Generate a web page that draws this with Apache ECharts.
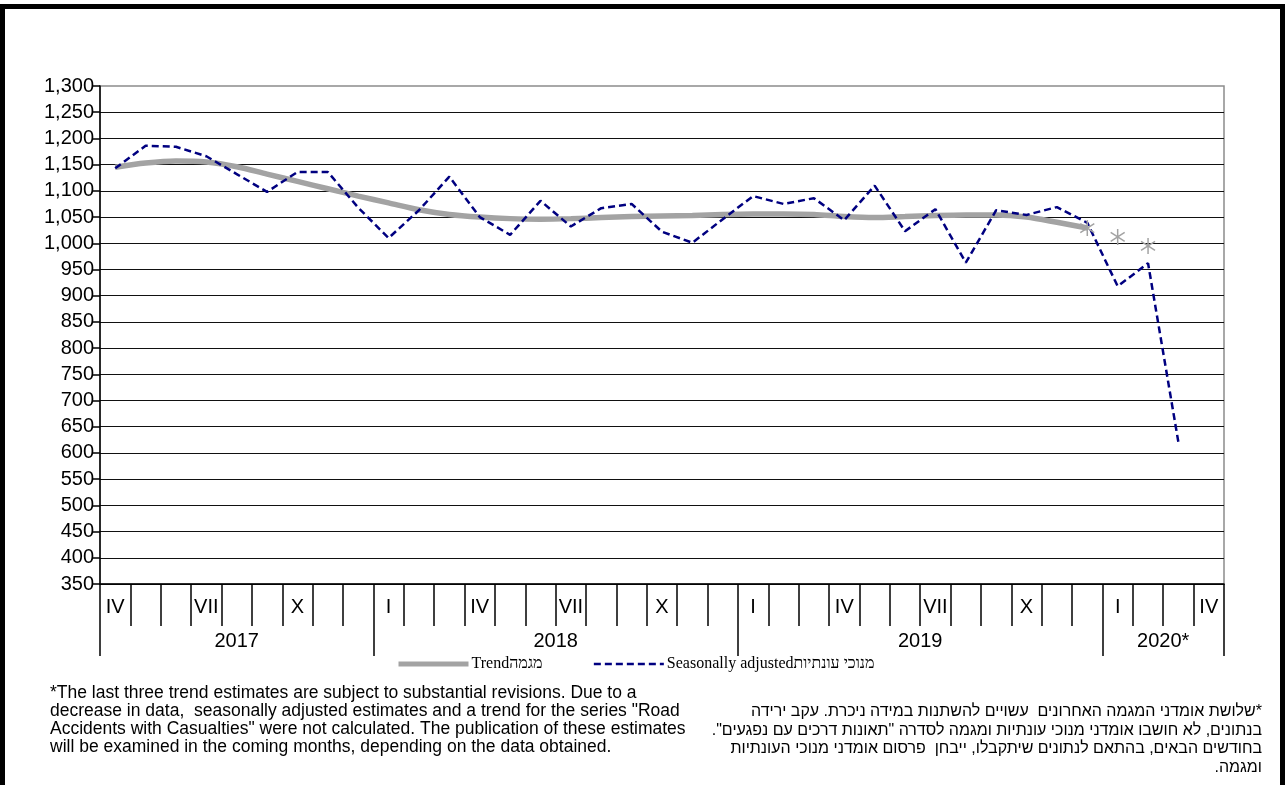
<!DOCTYPE html>
<html>
<head>
<meta charset="utf-8">
<script src="https://cdn.jsdelivr.net/npm/echarts@6/dist/echarts.min.js"></script>
<style>
html, body { margin: 0; padding: 0; background: #fff; }
#main { width: 1287px; height: 785px; }
</style>
</head>
<body>
<div id="main"></div>
<script>
// months shown on the axis, Apr 2017 .. Apr 2020
var months = [
  '2017-04', '2017-05', '2017-06', '2017-07', '2017-08', '2017-09', '2017-10', '2017-11', '2017-12',
  '2018-01', '2018-02', '2018-03', '2018-04', '2018-05', '2018-06', '2018-07', '2018-08', '2018-09',
  '2018-10', '2018-11', '2018-12',
  '2019-01', '2019-02', '2019-03', '2019-04', '2019-05', '2019-06', '2019-07', '2019-08', '2019-09',
  '2019-10', '2019-11', '2019-12',
  '2020-01', '2020-02', '2020-03', '2020-04'
]
var quarterLabels = ['I', '', '', 'IV', '', '', 'VII', '', '', 'X', '', '']
var yearLabels = ['2017', '2018', '2019', '2020*']

// seasonally adjusted, Apr 2017 .. Mar 2020
var seasonal = [
  1143, 1186, 1184, 1166, 1132, 1098, 1136, 1136, 1068,
  1010, 1063, 1127, 1050, 1016, 1081, 1032, 1067, 1075, 1022, 1001, 1046,
  1090, 1075, 1086, 1044, 1110, 1023, 1065, 963, 1063, 1054, 1069, 1039,
  918, 962, 620
]
// trend, Apr 2017 .. Dec 2019
var trend = [
  1145, 1153, 1157, 1155, 1146, 1132, 1118, 1104, 1090,
  1077, 1064, 1055, 1050, 1047, 1046, 1047, 1049, 1051, 1052, 1053, 1055,
  1056, 1056, 1055, 1051, 1049, 1051, 1053, 1054, 1054, 1050, 1040, 1029
]
// last three trend estimates (Dec 2019, Jan 2020, Feb 2020)
var trendRevised = [1029, 1012, 995]

var notesEn = [
  '*The last three trend estimates are subject to substantial revisions. Due to a',
  'decrease in data,  seasonally adjusted estimates and a trend for the series "Road',
  'Accidents with Casualties" were not calculated. The publication of these estimates',
  'will be examined in the coming months, depending on the data obtained.'
]
var notesHe = [
  '*שלושת אומדני המגמה האחרונים  עשויים להשתנות במידה ניכרת. עקב ירידה',
  'בנתונים, לא חושבו אומדני מנוכי עונתיות ומגמה לסדרה "תאונות דרכים עם נפגעים".',
  'בחודשים הבאים, בהתאם לנתונים שיתקבלו, ייבחן  פרסום אומדני מנוכי העונתיות',
  'ומגמה.'
]

var yearStarts = [0]
months.forEach(function (m, i) {
  if (i > 0 && m.slice(0, 4) !== months[i - 1].slice(0, 4)) yearStarts.push(i)
})
var yearBounds = yearStarts.concat([months.length])
var yearCenters = yearStarts.map(function (s, i) { return (s + yearBounds[i + 1]) / 2 })

var first = trend.length - 1
var revisedData = months.map(function (m, i) {
  var k = i - first
  return k >= 0 && k < trendRevised.length ? trendRevised[k] : '-'
})

var font = '"Liberation Sans", Arial, sans-serif'
var star = 'path://M0,-8L0,8M-7,-4.5L7,4.5M-7,4.5L7,-4.5'

var graphics = [{
  type: 'rect',
  shape: { x: 2.5, y: 6.5, width: 1280, height: 820 },
  style: { fill: 'none', stroke: '#000', lineWidth: 5 },
  silent: true
}, {
  type: 'text',
  left: 50, top: 684,
  style: { text: notesEn.join('\n'), font: '17.5px ' + font, lineHeight: 18, fill: '#000' }
}]
notesHe.forEach(function (line, i) {
  graphics.push({
    type: 'text',
    right: 25, top: 704 + i * 18.5,
    style: { text: '\u202B' + line + '\u202C', font: '16px ' + font, fill: '#000' }
  })
})

var chart = echarts.init(document.getElementById('main'))
chart.setOption({
  animation: false,
  backgroundColor: '#fff',
  textStyle: { fontFamily: font },
  grid: { left: 100, right: 63, top: 86, bottom: 201, show: true, borderColor: '#8c8c8c', borderWidth: 1.5 },
  legend: {
    left: 396, top: 656, padding: 0,
    itemWidth: 70, itemHeight: 14, itemGap: 50,
    itemStyle: { opacity: 0 },
    data: [
      { name: 'Trendמגמה', lineStyle: { width: 5 } },
      { name: 'Seasonally adjustedמנוכי עונתיות', lineStyle: { width: 2.5 } }
    ],
    textStyle: { fontFamily: '"Liberation Serif", "DejaVu Serif", serif', fontSize: 16, color: '#000', padding: [0, 0, 0, -2] }
  },
  xAxis: [{
    type: 'category',
    data: months,
    boundaryGap: true,
    axisLine: { show: true, lineStyle: { color: '#000', width: 1.5 } },
    axisTick: { show: true, interval: 0, alignWithLabel: false, length: 42, lineStyle: { color: '#000', width: 1.5 } },
    axisLabel: {
      interval: 0, margin: 13, fontSize: 20, color: '#000',
      formatter: function (v) { return quarterLabels[+v.slice(5) - 1] }
    }
  }, {
    type: 'value', min: 0, max: months.length, position: 'bottom',
    axisLine: { show: false },
    splitLine: { show: false },
    axisTick: { show: true, customValues: yearBounds, length: 72, lineStyle: { color: '#000', width: 1.5 } },
    axisLabel: {
      customValues: yearCenters, margin: 47, fontSize: 20, color: '#000',
      formatter: function (v) { return yearLabels[yearCenters.indexOf(v)] }
    }
  }],
  yAxis: {
    type: 'value', min: 350, max: 1300, interval: 50,
    axisLine: { show: true, lineStyle: { color: '#000', width: 1.5 } },
    axisTick: { show: true, length: 7, lineStyle: { color: '#000', width: 1.5 } },
    axisLabel: {
      fontSize: 20, color: '#000', margin: 6,
      formatter: function (v) { return v.toLocaleString('en-US') }
    },
    splitLine: { showMaxLine: false, lineStyle: { color: '#111', width: 1 } }
  },
  series: [{
    name: 'Trendמגמה',
    type: 'line',
    data: trend,
    smooth: 0.3,
    symbol: 'none',
    lineStyle: { color: '#a3a3a3', width: 5.5 },
    itemStyle: { color: '#a3a3a3' },
    z: 2
  }, {
    name: 'Seasonally adjustedמנוכי עונתיות',
    type: 'line',
    data: seasonal,
    symbol: 'none',
    lineStyle: { color: '#000080', width: 2.5, type: [7, 4] },
    itemStyle: { color: '#000080' },
    z: 3
  }, {
    name: 'revised',
    type: 'line',
    data: revisedData,
    lineStyle: { width: 0, opacity: 0 },
    symbol: star,
    symbolSize: 16,
    symbolKeepAspect: true,
    showSymbol: true,
    itemStyle: { color: 'rgba(0,0,0,0)', borderColor: '#a3a3a3', borderWidth: 1.5 },
    z: 4
  }],
  graphic: graphics
})
</script>
</body>
</html>
